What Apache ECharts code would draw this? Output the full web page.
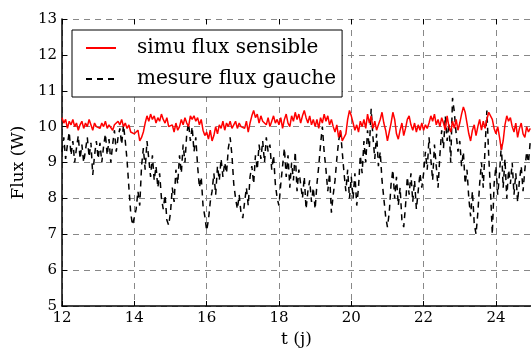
<!DOCTYPE html>
<html>
<head>
<meta charset="utf-8">
<script src="https://cdn.jsdelivr.net/npm/echarts@6/dist/echarts.min.js"></script>
<style>html,body{margin:0;padding:0;background:#fff;}#c{width:531px;height:351px;}</style>
</head>
<body>
<div id="c"></div>
<script>
// time axis: samples every 0.05 day starting at t = 12
const tStart = 12;
const tStep = 0.05;
const xTicks = [12, 14, 16, 18, 20, 22, 24];
const yTicks = [5, 6, 7, 8, 9, 10, 11, 12, 13];
const seriesNames = ['simu flux sensible', 'mesure flux gauche'];

const simuFlux = [
  10.25,10.1,10.2,9.95,10.15,10.05,10.2,10.0,10.1,9.9,10.05,10.15,9.95,10.1,10.0,10.2,10.05,9.9,10.1,10.0,
  10.05,9.95,10.1,10.0,10.15,9.95,10.05,10.1,9.9,10.05,10.0,10.15,10.05,10.2,10.0,10.1,9.95,10.05,9.85,9.9,
  9.8,9.75,9.9,9.6,9.7,9.85,10.1,10.3,10.15,10.35,10.2,10.3,10.1,10.25,10.15,10.35,10.2,10.1,10.25,10.0,
  9.95,10.05,9.85,10.1,9.9,10.0,10.2,10.05,10.25,10.1,10.0,10.3,10.2,10.3,10.15,10.25,10.05,10.2,9.9,9.75,
  9.85,9.65,9.9,9.6,9.75,10.0,9.8,10.05,9.95,10.15,9.9,10.1,10.0,10.15,9.95,10.05,10.15,9.95,10.1,10.0,
  10.05,9.95,10.15,9.85,10.1,10.3,10.45,10.25,10.35,10.1,10.3,10.15,10.2,10.05,10.25,10.0,10.15,10.3,10.1,10.2,
  10.05,10.25,9.95,10.2,10.35,10.1,10.0,10.3,10.15,10.4,10.2,10.35,10.1,10.3,10.45,10.25,10.1,10.3,10.05,10.2,
  10.0,10.2,9.95,10.25,10.1,10.35,10.15,10.3,10.05,10.2,10.0,9.85,10.05,9.7,9.9,9.6,9.55,9.8,10.2,10.45,
  10.3,10.1,9.9,10.05,9.85,10.15,10.0,10.2,9.95,10.35,10.1,10.3,9.95,10.15,9.9,10.05,10.2,10.4,10.1,9.9,
  9.6,9.85,10.1,10.4,10.2,9.8,9.65,9.9,10.1,9.75,9.95,10.2,10.3,10.05,9.9,10.1,9.85,10.05,9.9,10.1,
  9.9,10.05,9.95,10.1,10.3,10.15,10.35,10.05,10.2,10.0,10.25,10.1,9.9,10.3,10.0,9.85,10.15,9.95,10.2,9.9,
  10.1,10.35,10.55,10.4,10.1,9.8,9.6,9.9,10.05,9.75,10.0,10.2,9.9,10.15,9.95,10.2,10.4,10.45,10.2,9.95,
  9.8,10.0,9.7,9.35,9.6,10.05,10.3,10.15,10.25,10.0,9.85,10.1,9.7,9.95,10.1,9.8,9.7,10.0,9.85,9.95
];

const mesureFlux = [
  9.3,9.7,9.1,9.5,9.85,9.2,9.6,9.0,9.4,9.75,9.1,9.5,9.0,9.35,9.7,9.15,9.55,8.65,9.2,9.6,
  9.1,9.55,9.0,9.45,9.8,9.2,9.65,9.0,9.5,9.9,9.3,9.7,9.95,9.5,10.05,9.6,9.05,8.3,7.6,7.25,
  7.3,7.7,8.2,7.8,8.9,9.4,8.8,9.6,9.1,8.6,9.2,8.5,8.9,8.3,8.7,8.0,7.7,8.1,7.4,7.25,
  7.6,8.3,7.9,8.8,8.4,9.2,8.7,9.5,9.0,9.8,10.1,9.6,10.0,9.3,9.7,8.9,8.3,8.6,7.8,7.5,
  7.1,7.4,7.9,8.2,8.7,8.1,8.9,8.5,9.1,8.6,9.0,8.7,9.4,9.7,9.2,8.4,8.0,7.7,8.1,7.6,
  7.45,7.9,8.3,7.8,8.6,8.9,8.4,9.2,8.8,9.5,9.1,9.6,9.0,9.7,9.3,9.5,8.8,9.2,8.4,8.0,
  7.8,8.4,8.9,9.4,8.6,9.2,8.3,9.0,8.5,9.3,8.2,8.8,8.4,8.0,8.6,7.7,8.2,8.5,7.9,8.3,
  7.7,8.4,8.9,9.5,10.0,9.3,8.8,8.2,8.7,7.6,8.1,8.5,9.1,9.6,9.9,9.3,8.7,8.2,8.8,8.0,
  8.6,8.0,8.7,7.8,8.3,9.2,8.7,9.6,9.0,9.9,9.4,10.5,9.7,9.1,9.8,8.9,9.3,8.5,8.0,7.5,
  7.2,7.6,8.4,8.8,8.0,8.6,7.8,8.3,7.4,7.2,7.8,8.6,8.1,8.7,7.9,8.5,7.7,8.2,8.7,8.3,
  8.7,9.3,8.8,9.7,9.1,8.5,9.5,8.9,8.3,9.2,9.9,9.4,10.3,9.6,10.1,9.0,10.8,10.4,9.8,9.3,
  9.6,8.9,9.3,8.4,8.8,8.0,7.5,8.2,7.3,7.0,7.6,8.4,9.0,8.3,9.4,10.45,9.2,8.2,7.0,8.4,
  8.9,8.1,8.7,9.5,8.3,9.1,8.0,8.8,8.4,9.0,8.1,8.7,7.9,8.5,8.9,8.2,8.8,9.3,9.0,9.6
];

const toPairs = arr => arr.map((v, i) => [+(tStart + i * tStep).toFixed(3), v]);

const FONT = 'DejaVu Serif';
const chart = echarts.init(document.getElementById('c'), null, {renderer: 'canvas'});
chart.setOption({
  animation: false,
  backgroundColor: '#fff',
  grid: {left: 62, top: 19, right: 0, bottom: 45, outerBoundsMode: 'none', containLabel: false},
  legend: {
    orient: 'vertical', left: 72, top: 30,
    backgroundColor: '#fff', borderColor: '#000', borderWidth: 1, borderRadius: 0,
    padding: [8, 6, 8, 13], itemWidth: 30, itemHeight: 12, itemGap: 11,
    itemStyle: {opacity: 0},
    textStyle: {fontFamily: FONT, fontSize: 20, color: '#000', padding: [0, 0, 0, 16]},
    data: seriesNames
  },
  xAxis: [{
    type: 'value', min: xTicks[0], max: 24.97, interval: 2,
    name: 't (j)', nameLocation: 'middle', nameGap: 25,
    nameTextStyle: {fontFamily: FONT, fontSize: 17, color: '#000'},
    axisLine: {lineStyle: {color: '#000', width: 1.5}},
    axisTick: {inside: true, length: 5, lineStyle: {color: '#000'}},
    axisLabel: {fontFamily: FONT, fontSize: 15, color: '#000', margin: 5, showMaxLabel: false},
    splitLine: {show: true, lineStyle: {color: '#888', type: [6, 5], width: 1}}
  }, {
    type: 'value', position: 'top', min: xTicks[0], max: 24.97, interval: 2,
    axisLine: {show: false},
    axisTick: {inside: true, length: 5, lineStyle: {color: '#000'}},
    axisLabel: {show: false}, splitLine: {show: false}
  }],
  yAxis: {
    type: 'value', min: yTicks[0], max: yTicks[yTicks.length - 1], interval: 1,
    name: 'Flux (W)', nameLocation: 'middle', nameGap: 34, nameRotate: 90,
    nameTextStyle: {fontFamily: FONT, fontSize: 17, color: '#000'},
    axisLine: {show: true, lineStyle: {color: '#000', width: 1.5}},
    axisTick: {show: true, inside: true, length: 5, lineStyle: {color: '#000'}},
    axisLabel: {fontFamily: FONT, fontSize: 15, color: '#000', margin: 5},
    splitLine: {show: true, lineStyle: {color: '#888', type: [6, 5], width: 1}}
  },
  series: [{
    name: seriesNames[0], type: 'line', xAxisIndex: 0, symbol: 'none',
    lineStyle: {color: '#ff0000', width: 1.5}, itemStyle: {color: '#ff0000'},
    data: toPairs(simuFlux), z: 3
  }, {
    name: seriesNames[1], type: 'line', xAxisIndex: 0, symbol: 'none',
    lineStyle: {color: '#000', width: 1.5, type: [6, 5]}, itemStyle: {color: '#000'},
    data: toPairs(mesureFlux), z: 2
  }]
});
</script>
</body>
</html>
